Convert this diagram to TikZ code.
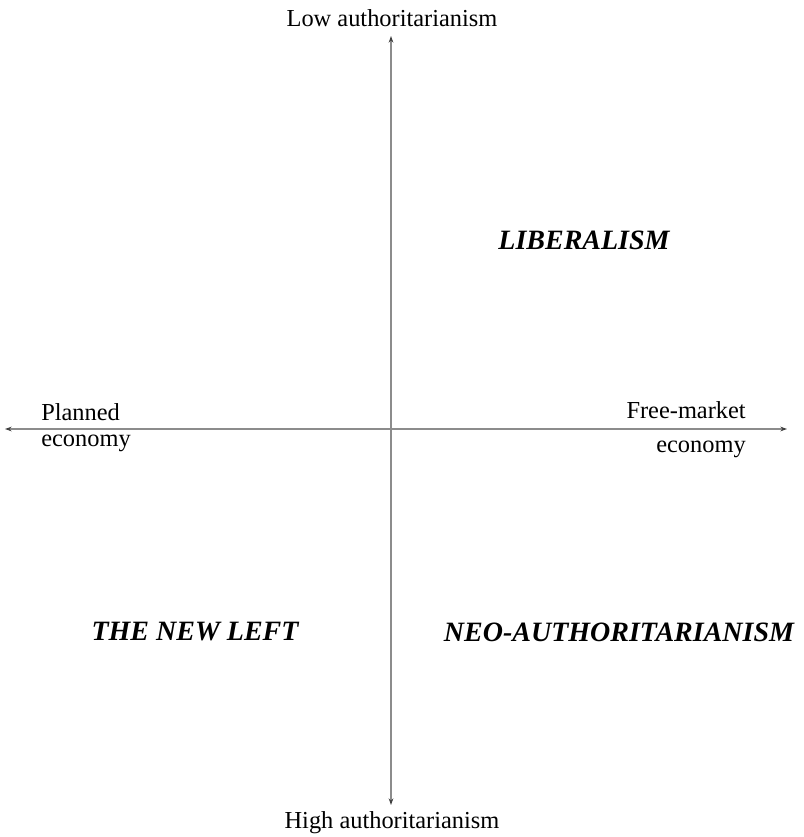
\documentclass[tikz,border=0pt]{standalone}
\usepackage{fontspec}
\setmainfont{Liberation Serif}
\usetikzlibrary{positioning,arrows.meta}

\begin{document}
\begin{tikzpicture}[
  x=0.75pt, y=-0.75pt,
  axis/.style  ={draw=black!45, line width=0.8pt,
                 {Stealth[length=5pt,width=3.5pt,black!75]}-{Stealth[length=5pt,width=3.5pt,black!75]}},
  pole/.style  ={font=\fontsize{18.3}{20}\selectfont, inner sep=0pt},
  camp/.style  ={font=\fontsize{21}{23}\selectfont\bfseries\itshape, inner sep=0pt}
]
\useasboundingbox (0,0) rectangle (803,837);

%% ---- Axes ---------------------------------------------------------
\coordinate (W) at (5,429);
\coordinate (E) at (787,429);
\coordinate (N) at (391,36);
\coordinate (S) at (391,805);
\draw[axis] (W) -- (E);
\draw[axis] (N) -- (S);

%% ---- Axis labels --------------------------------------------------
\node[pole] (low)  at (392,18)  {Low authoritarianism};
\node[pole] (high) at (392,823) {High authoritarianism};
\node[pole, align=left, anchor=west, font=\fontsize{18.3}{19.5}\selectfont]
      (plan) at (41,428) {Planned\\economy};
\node[pole, align=right, anchor=east, font=\fontsize{18.3}{25.5}\selectfont]
      (free) at (746,430) {Free-market\\economy};

%% ---- Quadrant names -----------------------------------------------
\node[camp] (lib)  at (584,240) {LIBERALISM};
\node[camp] (left) at (195,632) {THE NEW LEFT};
\node[camp] (neo)  at (619,632) {NEO-AUTHORITARIANISM};

\end{tikzpicture}
\end{document}
